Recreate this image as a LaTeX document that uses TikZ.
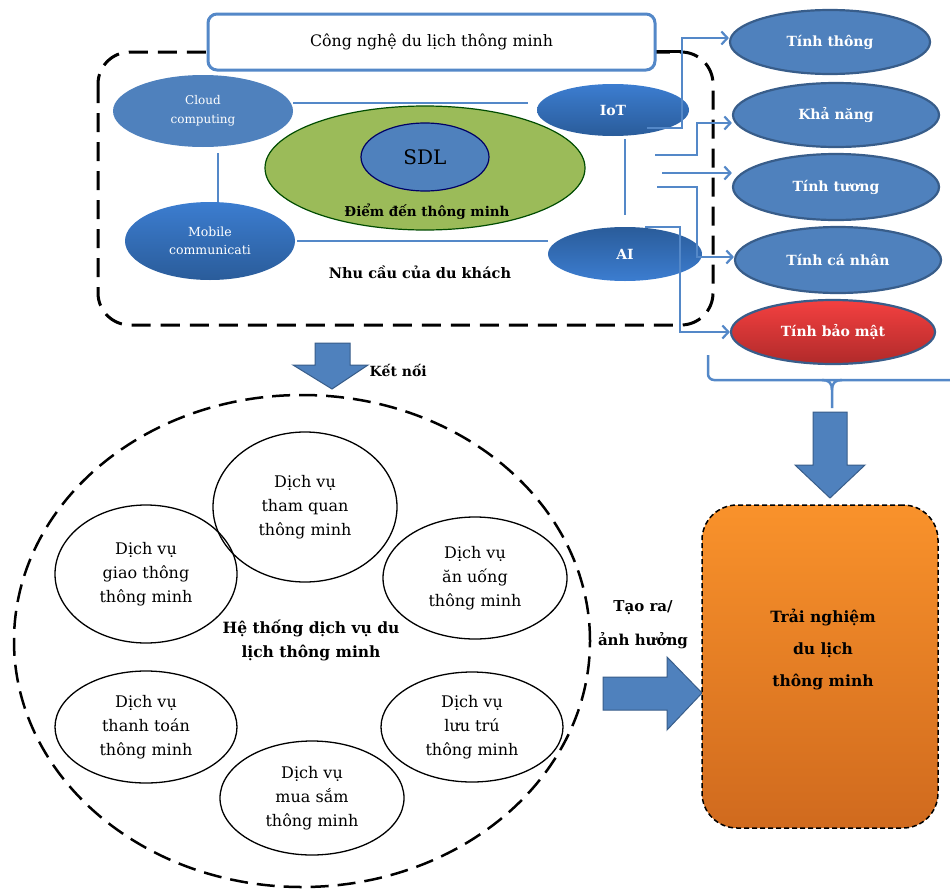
\documentclass[tikz,border=0pt]{standalone}
\usepackage{fontspec}
\setmainfont{DejaVu Serif}
\usetikzlibrary{shapes.geometric,arrows.meta,calc}
\definecolor{blueA}{RGB}{79,129,189}
\definecolor{blueB}{RGB}{56,93,138}
\definecolor{blueL}{RGB}{84,136,200}
\definecolor{blueTop}{RGB}{60,125,208}
\definecolor{blueBot}{RGB}{42,92,154}
\definecolor{greenA}{RGB}{155,187,89}
\definecolor{redTop}{RGB}{244,64,64}
\definecolor{redBot}{RGB}{176,42,42}
\definecolor{orTop}{RGB}{249,146,43}
\definecolor{orBot}{RGB}{208,106,30}
\newcommand\fzA[1]{\fontsize{#1}{#1}\selectfont}
\tikzset{
  ell/.style={ellipse, inner sep=0pt, align=center},
  rball/.style={ell, draw=blueB, line width=2.2pt, fill=blueA, text=white, font=\fzA{14}\bfseries},
  techball/.style={ell, draw=none, top color=blueTop, bottom color=blueBot, text=white},
  svc/.style={ell, draw=black, line width=1.3pt, font=\fontsize{16}{24}\selectfont},
  link/.style={draw=blueL, line width=2.8pt},
  conn/.style={draw=blueL, line width=2.6pt, -{Straight Barb[length=6pt,width=13pt,line width=2.2pt]}},
  blockarrow/.style={fill=blueA, draw=blueB, line width=1pt, line join=miter},
  frame/.style={draw=black, line width=3pt, dash pattern=on 19pt off 10pt},
  bold14/.style={font=\fzA{14}\bfseries, align=center},
}
\begin{document}
\begin{tikzpicture}[x=1pt,y=-1pt]
\useasboundingbox (0,0) rectangle (950,894);
\fill[white] (0,0) rectangle (950,894);

% ---------- top block ----------
\draw[frame, rounded corners=32pt] (98,52) rectangle (713,325);
\draw[black, line width=3pt] (655,51) -- (681,51);
\node[rectangle, rounded corners=9pt, draw=blueL, line width=3pt, fill=white,
      minimum width=447pt, minimum height=56pt, font=\fzA{15.8}] (tech) at (431.5,42)
      {Công nghệ du lịch thông minh};

\node[ell, fill=blueA, minimum width=180pt, minimum height=72pt, text=white,
      font=\fontsize{12}{19}\selectfont] (cloud) at (203,111) {Cloud\\computing};
\node[techball, minimum width=170pt, minimum height=78pt,
      font=\fontsize{12.5}{18}\selectfont] (mobile) at (210,241) {Mobile\\communicati};

\node[ell, draw=black!70!green, line width=1.2pt, fill=greenA,
      minimum width=320pt, minimum height=124pt] (dest) at (425,168) {};
\node[ell, draw=black!60!blue, line width=1.2pt, fill=blueA,
      minimum width=128pt, minimum height=68pt, font=\fzA{20}] (sdl) at (425,157) {SDL};
\node[font=\fzA{13.5}\bfseries] (destlab) at (427,212) {Điểm đến thông minh};
\node[font=\fzA{14.5}\bfseries] (need) at (420,272) {Nhu cầu của du khách};

\node[techball, minimum width=152pt, minimum height=52pt, font=\fzA{14}\bfseries] (iot) at (613,110) {IoT};
\node[techball, top color=blueBot, bottom color=blueTop, minimum width=154pt,
      minimum height=54pt, font=\fzA{14}\bfseries] (ai) at (625,254) {AI};

\draw[link] ($(cloud.east)+(0,-8)$) -- ($(iot.west)+(-9,-7)$);
\draw[link] ($(mobile.east)+(2,0)$) -- (mobile.east -| ai.west);
\draw[link] ($(cloud.south)+(15,6)$) -- ($(mobile.north)+(8,0)$);
\draw[link] ($(iot.south -| ai.north)+(0,3)$) -- ($(ai.north)+(0,-12)$);

% ---------- properties ----------
\node[rball, minimum width=200pt, minimum height=64pt] (tt) at (830,42) {Tính thông};
\node[rball, minimum width=206pt, minimum height=64pt] (kn) at (836,115) {Khả năng};
\node[rball, minimum width=206pt, minimum height=66pt] (tw) at (836,187) {Tính tương};
\node[rball, minimum width=206pt, minimum height=66pt] (cn) at (838,260) {Tính cá nhân};
\node[rball, fill=none, top color=redTop, bottom color=redBot,
      minimum width=204pt, minimum height=64pt] (bm) at (833,332) {Tính bảo mật};

\coordinate (s1) at (647,128);
\coordinate (s2) at (655,155);
\coordinate (s3) at (662,173);
\coordinate (s4) at (657,187);
\coordinate (s5) at (645,227);
\draw[conn] (s1) -- ++(35,0) |- ($(tt.west)+(0,-4)$);
\draw[conn] (s2) -- ++(42,0) |- ($(kn.west)+(0,8)$);
\draw[conn] (s3) -- (s3 -| tw.west);
\draw[conn] (s4) -- ++(40,0) |- ($(cn.west)+(0,-3)$);
\draw[conn] (s5) -- ++(35,0) |- (bm.west);

% brace
\draw[link, line width=2.5pt, rounded corners=6pt] (708,355) -- (708,380) -- (950,380);
\draw[link, line width=2.5pt] (822,380) .. controls (829,380) and (832,383) .. (832,390) -- (832,408);
\draw[link, line width=2.5pt] (842,380) .. controls (835,380) and (832,383) .. (832,390);

% ---------- block arrows ----------
\draw[blockarrow] (813,412) -- (847,412) -- (847,465) -- (865,465) -- (830,498)
      -- (795,465) -- (813,465) -- cycle;
\draw[blockarrow] (315,343) -- (350,343) -- (350,365) -- (368,365) -- (332,389)
      -- (293,365) -- (315,365) -- cycle;
\draw[blockarrow] (603,677) -- (667,677) -- (667,657) -- (702,693) -- (667,730)
      -- (667,710) -- (603,710) -- cycle;
\node[bold14, anchor=west] (ketnoi) at (366,370) {Kết nối};
\node[font=\fontsize{15}{34}\selectfont\bfseries, align=center] (taora) at (643,625) {Tạo ra/\\ảnh hưởng};

% ---------- experience ----------
\node[rectangle, rounded corners=35pt, draw=black, line width=1.5pt,
      dash pattern=on 5pt off 3pt, top color=orTop, bottom color=orBot,
      minimum width=236pt, minimum height=323pt] (exp) at (820,666.5) {};
\node[font=\fontsize{15.5}{32}\selectfont\bfseries, align=center] (explab) at (823,650)
      {Trải nghiệm\\du lịch\\thông minh};

% ---------- services ----------
\node[ell, draw=black, line width=2.5pt, dash pattern=on 18pt off 9pt,
      minimum width=576pt, minimum height=492pt] (sys) at (302,641) {};
\node[svc, minimum width=182pt, minimum height=138pt] (giao) at (146,574) {Dịch vụ\\giao thông\\thông minh};
\node[svc, minimum width=184pt, minimum height=150pt] (tham) at (305,507) {Dịch vụ\\tham quan\\thông minh};
\node[svc, minimum width=184pt, minimum height=122pt] (an) at (475,578) {Dịch vụ\\ăn uống\\thông minh};
\node[svc, minimum width=182pt, minimum height=112pt] (thanh) at (146,727) {Dịch vụ\\thanh toán\\thông minh};
\node[svc, minimum width=182pt, minimum height=110pt] (luu) at (472,727) {Dịch vụ\\lưu trú\\thông minh};
\node[svc, minimum width=184pt, minimum height=114pt] (mua) at (312,798) {Dịch vụ\\mua sắm\\thông minh};
\node[font=\fontsize{15.5}{24}\selectfont\bfseries, align=center] (syslab) at (311,640)
      {Hệ thống dịch vụ du\\lịch thông minh};
\end{tikzpicture}
\end{document}
